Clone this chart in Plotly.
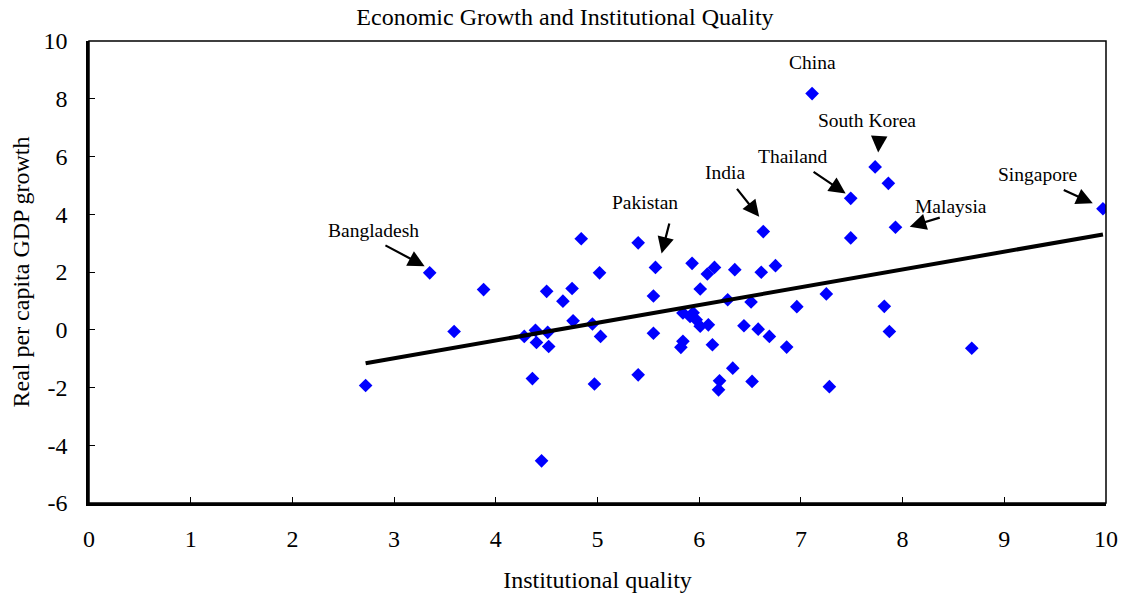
import plotly.graph_objects as go

# Institutional quality index (x) and real per capita GDP growth, % (y)
quality = [2.72, 3.35, 3.59, 3.88, 4.28, 4.39, 4.40, 4.51, 4.52, 4.50, 4.36, 4.45,
           4.66, 4.75, 4.76, 4.84, 4.95, 4.97, 5.02, 5.03,
           5.40, 5.40, 5.57, 5.55, 5.55,
           5.84, 5.91, 5.97, 6.01, 6.09, 5.94, 5.84, 5.82, 5.93, 6.01,
           6.08, 6.15, 6.13, 6.20, 6.19, 6.28, 6.33, 6.35, 6.44, 6.51, 6.52,
           6.58, 6.61, 6.63, 6.69, 6.75, 6.86, 6.96, 7.11, 7.25, 7.28,
           7.49, 7.49, 7.73, 7.86, 7.82, 7.87, 7.93, 8.68, 9.97]
growth = [-1.93, 1.97, -0.06, 1.39, -0.23, -0.02, -0.44, -0.09, -0.58, 1.33, -1.69, -4.54,
          0.99, 1.43, 0.31, 3.15, 0.20, -1.88, 1.97, -0.23,
          3.01, -1.56, 2.16, 1.17, -0.12,
          0.58, 0.46, 0.35, 0.12, 0.17, 0.59, -0.40, -0.61, 2.30, 1.41,
          1.93, 2.16, -0.52, -1.77, -2.08, 1.04, -1.33, 2.08, 0.14, 0.96, -1.79,
          0.02, 1.99, 3.40, -0.23, 2.22, -0.60, 0.80, 8.18, 1.24, -1.97,
          4.55, 3.18, 5.64, 5.07, 0.81, -0.06, 3.55, -0.64, 4.19]

# Fitted trend line end points
trend_x = [2.72, 9.97]
trend_y = [-1.16, 3.30]

# Axis ticks (plain hyphen for negatives)
x_ticks = list(range(0, 11))
y_ticks = [-6, -4, -2, 0, 2, 4, 6, 8, 10]
y_tick_text = ["-6", "-4", "-2", "0", "2", "4", "6", "8", "10"]

# Country labels: name, text position, arrow tail, arrow head (None = no arrow)
labels = ["Bangladesh", "Pakistan", "India", "Thailand", "South Korea",
          "China", "Singapore", "Malaysia"]
label_pos = [(2.80, 3.44), (5.47, 4.40), (6.25, 5.46), (6.92, 6.01), (7.65, 7.26),
             (7.11, 9.24), (9.33, 5.36), (8.48, 4.28)]
arrow_tail = [(2.90, 2.95), (5.71, 3.73), (6.36, 4.93), (7.11, 5.50), (7.77, 6.71),
              None, (9.57, 4.86), (8.38, 3.90)]
arrow_head = [(3.30, 2.20), (5.63, 2.64), (6.59, 3.91), (7.44, 4.72), (7.76, 6.14),
              None, (9.87, 4.38), (8.07, 3.57)]

FONT = "Liberation Serif, Times New Roman, serif"

fig = go.Figure()
fig.add_trace(go.Scatter(
    x=quality, y=growth, mode="markers",
    marker=dict(symbol="diamond", size=10.5, color="#0000FF", line=dict(width=0)),
    showlegend=False, hoverinfo="x+y"))
fig.add_trace(go.Scatter(
    x=trend_x, y=trend_y, mode="lines",
    line=dict(color="black", width=4), showlegend=False, hoverinfo="skip"))

annotations = []
for name, pos, tail, head in zip(labels, label_pos, arrow_tail, arrow_head):
    annotations.append(dict(x=pos[0], y=pos[1], xref="x", yref="y", text=name,
                            showarrow=False, font=dict(family=FONT, size=19.5, color="black")))
    if head is not None:
        annotations.append(dict(x=head[0], y=head[1], ax=tail[0], ay=tail[1],
                                xref="x", yref="y", axref="x", ayref="y", text="",
                                showarrow=True, arrowhead=2, arrowsize=1.5,
                                arrowwidth=2.2, arrowcolor="black", standoff=0))

fig.update_layout(
    width=1130, height=600,
    margin=dict(l=89, r=24, t=41, b=97),
    paper_bgcolor="white", plot_bgcolor="white",
    font=dict(family=FONT, size=24, color="black"),
    title=dict(text="Economic Growth and Institutional Quality", x=0.5, xanchor="center",
               y=0.987, yanchor="top", font=dict(family=FONT, size=24)),
    annotations=annotations,
    shapes=[dict(type="rect", xref="paper", yref="paper", x0=0, x1=1, y0=0, y1=1,
                 line=dict(color="black", width=1.5), layer="above")],
)
fig.update_xaxes(range=[0, 10], tickmode="array", tickvals=x_ticks,
                 ticks="inside", ticklen=6, tickwidth=1.2, tickcolor="black",
                 showline=True, linewidth=2.5, linecolor="black", showgrid=False,
                 zeroline=False, ticklabelstandoff=12,
                 title=dict(text="Institutional quality", standoff=21,
                            font=dict(family=FONT, size=24)))
fig.update_yaxes(range=[-6, 10], tickmode="array", tickvals=y_ticks, ticktext=y_tick_text,
                 ticks="inside", ticklen=6, tickwidth=1.2, tickcolor="black",
                 showline=True, linewidth=2.5, linecolor="black", showgrid=False,
                 zeroline=False, ticklabelstandoff=14,
                 title=dict(text="Real per capita GDP growth", standoff=8,
                            font=dict(family=FONT, size=24)))

fig.write_html("out.html")
